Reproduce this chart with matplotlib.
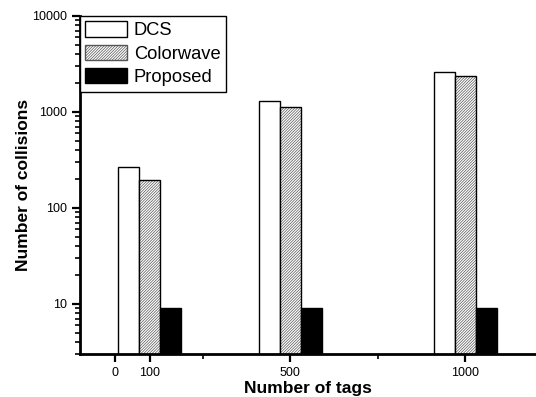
import matplotlib
matplotlib.use("Agg")
import matplotlib.pyplot as plt
import numpy as np
from matplotlib.ticker import FixedLocator, NullFormatter

# data
tags = [100, 500, 1000]
dcs = [265, 1300, 2590]
colorwave = [196, 1120, 2390]
proposed = [9, 9, 9]
xticks = [0, 100, 500, 1000]
xminor = [250, 750]

plt.rcParams.update({
    "font.family": ["Liberation Sans", "DejaVu Sans"],
    "hatch.linewidth": 0.5,
})

fig = plt.figure(figsize=(5.36, 3.97), dpi=100)
ax = fig.add_axes([0.149, 0.108, 0.85, 0.852])

w = 60
x = np.array(tags)
ax.bar(x - w, dcs, w, color="white", edgecolor="black", lw=1.0,
       label="DCS", zorder=2)
# hatched fill in grey, black outline on top
ax.bar(x, colorwave, w, color="white", edgecolor="#555555", lw=0,
       hatch="////////////", zorder=2)
ax.bar(x, colorwave, w, fill=False, edgecolor="black", lw=1.0, zorder=3)
ax.bar(x + w, proposed, w, color="black", edgecolor="black", lw=1.0,
       label="Proposed", zorder=2)

ax.set_yscale("log")
ax.set_ylim(3, 10000)
ax.set_xlim(-100, 1200)
ax.set_yticks([10, 100, 1000, 10000])
ax.set_yticklabels(["10", "100", "1000", "10000"])
ax.yaxis.set_minor_formatter(NullFormatter())
ax.set_xticks(xticks)
ax.set_xticklabels([str(t) for t in xticks])
ax.xaxis.set_minor_locator(FixedLocator(xminor))

for s in ("top", "right"):
    ax.spines[s].set_visible(False)
for s in ("left", "bottom"):
    ax.spines[s].set_linewidth(2.0)

ax.tick_params(which="major", direction="out", length=6, width=1.6,
               labelsize=9, pad=3)
ax.tick_params(which="minor", direction="out", length=3.5, width=1.2)

ax.set_xlabel("Number of tags", fontsize=12.5, fontweight="bold", labelpad=2)
ax.set_ylabel("Number of collisions", fontsize=12.5, fontweight="bold",
              labelpad=1)

# legend handles built to look like the bars
from matplotlib.patches import Patch
handles = [
    Patch(facecolor="white", edgecolor="black", lw=1.0),
    Patch(facecolor="white", edgecolor="#555555", lw=1.0,
          hatch="////////////"),
    Patch(facecolor="black", edgecolor="black", lw=1.0),
]
leg = ax.legend(handles, ["DCS", "Colorwave", "Proposed"],
                loc="upper left", borderaxespad=0, fontsize=13.2,
                frameon=True, fancybox=False, edgecolor="black",
                framealpha=1, handlelength=2.25, handleheight=0.9,
                handletextpad=0.4, labelspacing=0.3, borderpad=0.3)
leg.get_frame().set_linewidth(1.0)

fig.savefig("out.png", dpi=100)
